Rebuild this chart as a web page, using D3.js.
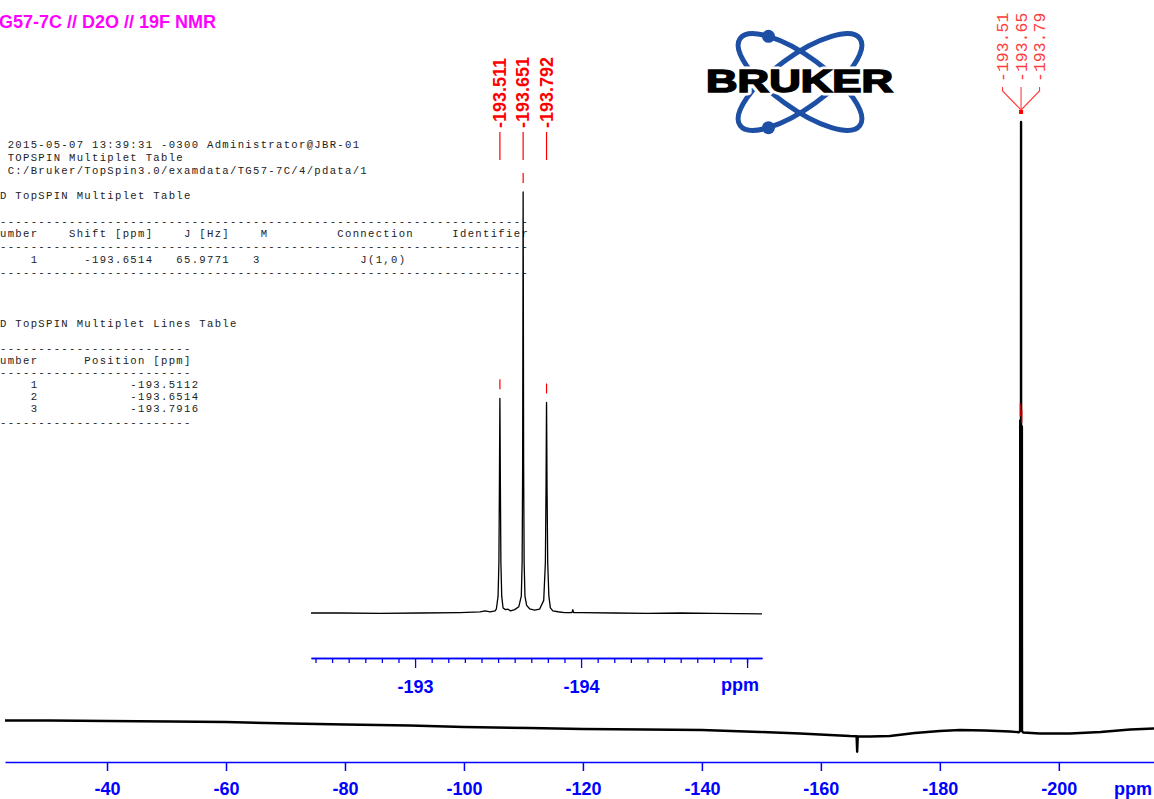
<!DOCTYPE html>
<html><head><meta charset="utf-8">
<script src="https://cdn.jsdelivr.net/npm/d3@7"></script>
<style>
html,body{margin:0;padding:0;background:#fff;overflow:hidden;}
svg{display:block;}
.mono{font-family:"Liberation Mono","DejaVu Sans Mono",monospace;font-size:10.6px;letter-spacing:1.31px;fill:#222;white-space:pre;}
.axis text{font-family:"Liberation Sans",Arial,sans-serif;font-weight:bold;font-size:18px;fill:#0000ff;}
.axis path,.axis line{stroke:#0000ff;}
</style></head><body>
<svg id="chart" width="1154" height="799"></svg>
<script>
// ---------- data ----------
const titleText = "G57-7C // D2O // 19F NMR";
const headerLines = [
  " 2015-05-07 13:39:31 -0300 Administrator@JBR-01",
  " TOPSPIN Multiplet Table",
  " C:/Bruker/TopSpin3.0/examdata/TG57-7C/4/pdata/1"
];
const multipletTitle = "D TopSPIN Multiplet Table";
const multipletHeader = "umber    Shift [ppm]    J [Hz]    M         Connection     Identifier";
const multipletRows = ["    1      -193.6514   65.9771   3             J(1,0)"];
const linesTitle = "D TopSPIN Multiplet Lines Table";
const linesHeader = "umber      Position [ppm]";
const linesRows = [
  "    1            -193.5112",
  "    2            -193.6514",
  "    3            -193.7916"
];

// main spectrum (ppm, relative intensity; central line = 100)
const mainPPM = [-22.85,-30.4,-40,-50.6,-60,-70.8,-80,-90.9,-100,-111,-120,-130.4,-140,-149.8,-156.5,-161.5,-164.9,-166.0,-166.1,-166.2,-168.3,-171.6,-175.8,-180,-183.4,-187.6,-191.8,-193.3,
  -193.49,-193.511,-193.53,-193.63,-193.651,-193.67,-193.77,-193.792,-193.81,-194.0,-196.8,-201.9,-207,-212,-216.0];
const mainInt = [1.72,1.72,1.64,1.55,1.47,1.23,1.06,0.9,0.65,0.49,0.33,0.25,0.16,-0.16,-0.41,-0.65,-0.82,-0.85,-3.4,-0.9,-0.9,-0.82,-0.33,0.0,0.16,0.08,-0.08,-0.2,
  0,51,0.5,1,100,1,0.5,50,0,-0.25,-0.41,-0.41,-0.16,0.25,0.41];

// expanded multiplet region
const insetPPM = [-192.373,-192.548,-192.789,-193.03,-193.271,-193.392,-193.422,-193.452,-193.482,
  -193.49,-193.5,-193.505,-193.508,-193.5105,-193.511,-193.5115,-193.514,-193.517,-193.522,-193.53,
  -193.545,-193.56,-193.575,-193.6,-193.625,-193.64,-193.645,-193.648,-193.6505,-193.651,-193.6515,-193.654,-193.657,-193.662,-193.672,
  -193.69,-193.72,-193.75,-193.775,-193.785,-193.789,-193.7915,-193.792,-193.7925,-193.795,-193.799,-193.806,-193.815,
  -193.83,-193.86,-193.9,-193.945,-193.95,-193.955,-194.0,-194.2,-194.4,-194.6,-194.8,-195.09];
const insetInt = [0,0,-0.1,0,0.1,0.25,0.5,0.25,0.5,
  1.0,4,12,30,48,51,48,30,12,4,1.2,
  0.8,0.9,0.5,0.8,1.5,4,12,35,90,100,90,35,12,4,1.8,
  1.0,0.7,0.9,3,12,30,48,50,48,30,12,4,1.2,
  0.5,0.3,0.1,0.1,0.8,0.1,0.1,0,-0.1,0,-0.1,-0.2];

const peakPPM = [-193.511,-193.651,-193.792];
const peakHeight = [51,100,50];
const insetPeakLabels = ["-193.511","-193.651","-193.792"];
const mainPeakLabels = ["-193.51","-193.65","-193.79"];

const mainMajorTicks = [-40,-60,-80,-100,-120,-140,-160,-180,-200];
const mainMinorTicks = [-30,-50,-70,-90,-110,-130,-150,-170,-190,-210];
const insetMajorTicks = [-193,-194,-195];
const insetMinorTicks = [-192.4,-192.5,-192.6,-192.7,-192.8,-192.9,-193.1,-193.2,-193.3,-193.4,-193.5,-193.6,-193.7,-193.8,-193.9,-194.1,-194.2,-194.3,-194.4,-194.5,-194.6,-194.7,-194.8,-194.9,-195.0];
const insetLabelTicks = [-193,-194];

// ---------- drawing ----------
const svg = d3.select("#chart");
const red = "#ff0000", blue = "#0000ff";

const xMain = d3.scaleLinear().domain([-22.85,-216.0]).range([5,1154]);
const yMain = d3.scaleLinear().domain([0,100]).range([731,122]);
const xIn = d3.scaleLinear().domain([-192.373,-195.09]).range([311,762]);
const yIn = d3.scaleLinear().domain([0,100]).range([613,192]);

// title
svg.append("text").attr("x",-1).attr("y",28).text(titleText)
  .attr("font-family","Liberation Sans, Arial, sans-serif").attr("font-weight","bold")
  .attr("font-size",18).attr("fill","#ff00ff");

// text blocks (each block is one preformatted text element)
const dash69 = "-".repeat(69), dash25 = "-".repeat(25);
function block(lines, ys){
  const t = svg.append("text").attr("class","mono");
  lines.forEach((s,i)=>t.append("tspan").attr("x",0).attr("y",ys[i]).text(s));
}
block(headerLines, [148,161,174]);
block([multipletTitle, dash69, multipletHeader, dash69, ...multipletRows, dash69], [199,225,237,250,263,276]);
block([linesTitle, dash25, linesHeader, dash25, ...linesRows, dash25], [327,352,364,376,388,400,412,426]);

// Bruker logo
const logo = svg.append("g");
const lc = [800,82], la = 74, lb = 26, lth = 36;
[lth,-lth].forEach(th=>{
  logo.append("ellipse").attr("cx",0).attr("cy",0).attr("rx",la).attr("ry",lb)
    .attr("transform",`translate(${lc[0]},${lc[1]}) rotate(${th})`)
    .attr("fill","none").attr("stroke","#1d4fa5").attr("stroke-width",5);
});
[lth,-lth].forEach(th=>{
  const t = th>0 ? 225*Math.PI/180 : 135*Math.PI/180;
  const r = th*Math.PI/180;
  const px = la*Math.cos(t)*Math.cos(r) - lb*Math.sin(t)*Math.sin(r);
  const py = la*Math.cos(t)*Math.sin(r) + lb*Math.sin(t)*Math.cos(r);
  logo.append("circle").attr("cx",lc[0]+px).attr("cy",lc[1]+py).attr("r",6.5).attr("fill","#1d4fa5");
});
logo.append("text").attr("x",706).attr("y",92).text("BRUKER")
  .attr("textLength",187).attr("lengthAdjust","spacingAndGlyphs")
  .attr("font-family","Liberation Sans, Arial, sans-serif").attr("font-weight","bold").attr("font-size",32)
  .attr("fill","#fff").attr("stroke","#fff").attr("stroke-width",7).attr("stroke-linejoin","round");
logo.append("text").attr("x",706).attr("y",92).text("BRUKER")
  .attr("textLength",187).attr("lengthAdjust","spacingAndGlyphs")
  .attr("font-family","Liberation Sans, Arial, sans-serif").attr("font-weight","bold").attr("font-size",32)
  .attr("fill","#000").attr("stroke","#000").attr("stroke-width",1.6);

// main spectrum
const mainData = mainPPM.map((p,i)=>[p,mainInt[i]]);
svg.append("path").datum(mainData)
  .attr("d",d3.line().x(d=>xMain(d[0])).y(d=>yMain(d[1])))
  .attr("fill","none").attr("stroke","#000").attr("stroke-width",2.4).attr("stroke-linejoin","round");

// inset spectrum
const inData = insetPPM.map((p,i)=>[p,insetInt[i]]);
svg.append("path").datum(inData)
  .attr("d",d3.line().x(d=>xIn(d[0])).y(d=>yIn(d[1])))
  .attr("fill","none").attr("stroke","#000").attr("stroke-width",1.3).attr("stroke-linejoin","round");

// main axis
const gm = svg.append("g").attr("class","axis").attr("transform","translate(0,762)");
gm.call(d3.axisBottom(xMain).tickValues(mainMinorTicks).tickSize(4).tickFormat("").tickSizeOuter(0));
gm.call(d3.axisBottom(xMain).tickValues(mainMajorTicks).tickSize(9).tickPadding(11).tickSizeOuter(0).tickFormat(d=>String(d)));
gm.selectAll("path,line").attr("stroke-width",1.5);
svg.append("text").attr("x",1133).attr("y",795).attr("text-anchor","middle").text("ppm")
  .attr("font-family","Liberation Sans, Arial, sans-serif").attr("font-weight","bold").attr("font-size",18).attr("fill",blue);

// inset axis
const gi = svg.append("g").attr("class","axis").attr("transform","translate(0,658)");
gi.call(d3.axisBottom(xIn).tickValues(insetMinorTicks).tickSize(5).tickFormat("").tickSizeOuter(0));
const gi2 = svg.append("g").attr("class","axis").attr("transform","translate(0,658)");
gi2.call(d3.axisBottom(xIn).tickValues(insetMajorTicks).tickSize(10).tickPadding(12).tickSizeOuter(0)
  .tickFormat(d=>insetLabelTicks.includes(d)?String(d):""));
gi.selectAll("path,line").attr("stroke-width",1.3);
gi2.selectAll("path,line").attr("stroke-width",1.3);
svg.append("text").attr("x",740).attr("y",691).attr("text-anchor","middle").text("ppm")
  .attr("font-family","Liberation Sans, Arial, sans-serif").attr("font-weight","bold").attr("font-size",18).attr("fill",blue);

// inset peak annotations
peakPPM.forEach((p,i)=>{
  const x = xIn(p);
  svg.append("line").attr("x1",x).attr("x2",x).attr("y1",132).attr("y2",160).attr("stroke",red).attr("stroke-width",1.2);
  svg.append("line").attr("x1",x).attr("x2",x).attr("y1",yIn(peakHeight[i])-19).attr("y2",yIn(peakHeight[i])-9).attr("stroke",red).attr("stroke-width",1.2);
  svg.append("text").attr("transform",`translate(${x},128) rotate(-90)`).attr("dy","0.35em")
    .text(insetPeakLabels[i]).attr("font-family","Liberation Sans, Arial, sans-serif")
    .attr("font-weight","bold").attr("font-size",18).attr("fill",red);
});

// main peak annotations
const cx = xMain(peakPPM[1]);
mainPeakLabels.forEach((t,i)=>{
  const lx = cx + (i-1)*18.5;
  svg.append("text").attr("transform",`translate(${lx},82) rotate(-90)`).attr("dy","0.35em")
    .text(t).attr("font-family","Liberation Mono, monospace").attr("font-size",16.5).attr("fill","#ff3b3b");
  const path = i===1 ? `M${lx},87L${cx},112` : `M${lx},87L${lx},91L${cx},110`;
  svg.append("path").attr("d",path).attr("fill","none").attr("stroke","#ff3b3b").attr("stroke-width",1.1);
});
svg.append("rect").attr("x",cx-2).attr("y",110).attr("width",4).attr("height",4).attr("fill",red);
[peakPPM[0],peakPPM[2]].forEach((p,i)=>{
  const x = xMain(p);
  svg.append("line").attr("x1",x).attr("x2",x).attr("y1",yMain(peakHeight[i*2])-17).attr("y2",yMain(peakHeight[i*2])-4)
    .attr("stroke",red).attr("stroke-width",1);
});
</script>
</body></html>
